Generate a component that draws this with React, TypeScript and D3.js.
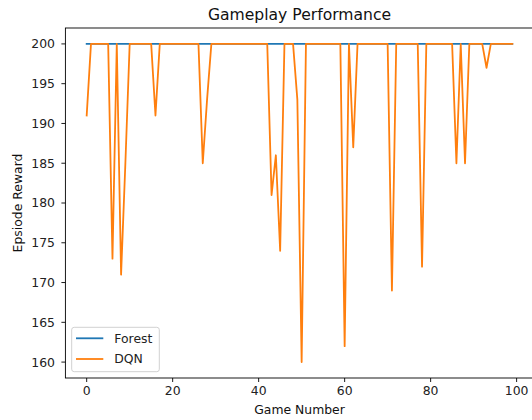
import React from "react";
import * as d3 from "d3";

const title = "Gameplay Performance";
const xLabel = "Game Number";
const yLabel = "Epsiode Reward";

const games = d3.range(0, 100);

const forest = [
  200, 200, 200, 200, 200, 200, 200, 200, 200, 200,
  200, 200, 200, 200, 200, 200, 200, 200, 200, 200,
  200, 200, 200, 200, 200, 200, 200, 200, 200, 200,
  200, 200, 200, 200, 200, 200, 200, 200, 200, 200,
  200, 200, 200, 200, 200, 200, 200, 200, 200, 200,
  200, 200, 200, 200, 200, 200, 200, 200, 200, 200,
  200, 200, 200, 200, 200, 200, 200, 200, 200, 200,
  200, 200, 200, 200, 200, 200, 200, 200, 200, 200,
  200, 200, 200, 200, 200, 200, 200, 200, 200, 200,
  200, 200, 200, 200, 200, 200, 200, 200, 200, 200,
];

const dqn = [
  191, 200, 200, 200, 200, 200, 173, 200, 171, 185,
  200, 200, 200, 200, 200, 200, 191, 200, 200, 200,
  200, 200, 200, 200, 200, 200, 200, 185, 193, 200,
  200, 200, 200, 200, 200, 200, 200, 200, 200, 200,
  200, 200, 200, 181, 186, 174, 200, 200, 200, 193,
  160, 200, 200, 200, 200, 200, 200, 200, 200, 200,
  162, 200, 187, 200, 200, 200, 200, 200, 200, 200,
  200, 169, 200, 200, 200, 200, 200, 200, 172, 200,
  200, 200, 200, 200, 200, 200, 185, 200, 185, 200,
  200, 200, 200, 197, 200, 200, 200, 200, 200, 200,
];

const xTicks = [0, 20, 40, 60, 80, 100];
const yTicks = [160, 165, 170, 175, 180, 185, 190, 195, 200];

const series = [
  { name: "Forest", values: forest, color: "#1f77b4" },
  { name: "DQN", values: dqn, color: "#ff7f0e" },
];

const W = 532, H = 420;
const plot = { left: 65.4, top: 28, right: 533.6, bottom: 378 };
const font = "DejaVu Sans, sans-serif";
const tickFont = 12.4;

export default function App() {
  const x = d3.scaleLinear().domain([-4.95, 103.95]).range([plot.left, plot.right]);
  const y = d3.scaleLinear().domain([158, 202]).range([plot.bottom, plot.top]);

  const line = (vals: number[]) =>
    d3.line<number>()
      .x((_, i) => x(games[i]))
      .y((d) => y(d))(vals) || "";

  return (
    <svg
      width={W}
      height={H}
      style={{ position: "fixed", left: 0, top: 0, background: "#fff" }}
      fontFamily={font}
    >
      <rect x={0} y={0} width={W} height={H} fill="#fff" />
      <defs>
        <clipPath id="plotclip">
          <rect x={plot.left} y={plot.top} width={plot.right - plot.left} height={plot.bottom - plot.top} />
        </clipPath>
      </defs>

      <g clipPath="url(#plotclip)" fill="none" strokeWidth={1.8} strokeLinejoin="round" strokeLinecap="square">
        {series.map((s) => (
          <path key={s.name} d={line(s.values)} stroke={s.color} />
        ))}
      </g>

      {/* spines */}
      <rect
        x={plot.left}
        y={plot.top}
        width={plot.right - plot.left}
        height={plot.bottom - plot.top}
        fill="none"
        stroke="#000"
        strokeWidth={0.9}
      />

      {/* x axis */}
      {xTicks.map((t) => (
        <g key={"x" + t} transform={`translate(${x(t)},${plot.bottom})`}>
          <line y1={0} y2={4} stroke="#000" strokeWidth={0.9} />
          <text y={17} textAnchor="middle" fontSize={tickFont} fill="#222">{t}</text>
        </g>
      ))}

      {/* y axis */}
      {yTicks.map((t) => (
        <g key={"y" + t} transform={`translate(${plot.left},${y(t)})`}>
          <line x1={-4} x2={0} stroke="#000" strokeWidth={0.9} />
          <text x={-10.5} dy="0.36em" textAnchor="end" fontSize={tickFont} fill="#222">{t}</text>
        </g>
      ))}

      <text x={(plot.left + plot.right) / 2} y={20} textAnchor="middle" fontSize={15.6} fill="#111">
        {title}
      </text>
      <text x={(plot.left + plot.right) / 2} y={414} textAnchor="middle" fontSize={tickFont} fill="#111">
        {xLabel}
      </text>
      <text
        transform={`translate(21.5,${(plot.top + plot.bottom) / 2}) rotate(-90)`}
        textAnchor="middle"
        fontSize={tickFont}
        fill="#111"
      >
        {yLabel}
      </text>

      {/* legend */}
      <g>
        <rect x={71.7} y={327.3} width={87.6} height={44.4} rx={2.5} fill="#fff" fillOpacity={0.8} stroke="#ccc" strokeWidth={0.9} />
        {series.map((s, i) => (
          <g key={"lg" + s.name} transform={`translate(76,${338.3 + i * 20.7})`}>
            <line x1={0} x2={27.3} stroke={s.color} strokeWidth={1.8} />
            <text x={38.3} dy="0.36em" fontSize={tickFont} fill="#222">{s.name}</text>
          </g>
        ))}
      </g>
    </svg>
  );
}
